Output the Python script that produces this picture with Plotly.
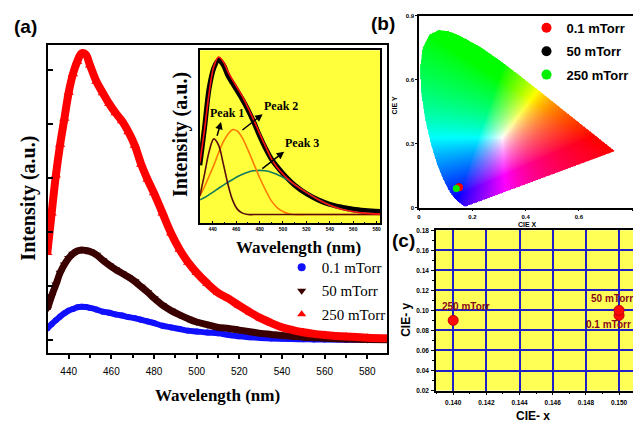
import numpy as np
import plotly.graph_objects as go
import zlib, struct, base64

# ---------------- data ----------------
WL = [430, 432, 434, 436, 438, 440, 442, 444, 446, 448, 450, 453, 456, 459, 462, 465, 468, 471,
      474, 477, 480, 484, 488, 492, 496, 500, 505, 510, 515, 520, 525, 530, 535, 540, 545, 550,
      555, 560, 570, 580, 590]
I_250 = [1.62, 2.35, 3.05, 3.62, 4.10, 4.58, 4.92, 5.15, 5.30, 5.28, 5.08, 4.78, 4.57, 4.37, 4.20,
         4.05, 3.85, 3.60, 3.25, 2.97, 2.72, 2.35, 1.98, 1.68, 1.44, 1.25, 1.05, 0.88, 0.77, 0.64,
         0.52, 0.41, 0.32, 0.24, 0.19, 0.15, 0.12, 0.10, 0.07, 0.05, 0.04]
I_50 = [0.58, 0.82, 1.03, 1.25, 1.40, 1.52, 1.60, 1.65, 1.67, 1.66, 1.64, 1.58, 1.48, 1.39, 1.31,
        1.24, 1.17, 1.09, 0.99, 0.89, 0.78, 0.65, 0.55, 0.47, 0.40, 0.34, 0.29, 0.24, 0.22, 0.19,
        0.16, 0.13, 0.11, 0.09, 0.075, 0.06, 0.05, 0.04, 0.025, 0.015, 0.01]
I_01 = [0.22, 0.30, 0.37, 0.44, 0.50, 0.55, 0.58, 0.61, 0.62, 0.615, 0.60, 0.57, 0.53, 0.51, 0.48,
        0.46, 0.43, 0.41, 0.38, 0.35, 0.32, 0.27, 0.24, 0.21, 0.18, 0.165, 0.145, 0.13, 0.10, 0.075,
        0.06, 0.045, 0.035, 0.03, 0.025, 0.02, 0.018, 0.015, 0.012, 0.01, 0.01]

# inset (250 mTorr, normalised) with Gaussian deconvolution
WL_IN = [429, 433, 437, 441, 445, 449, 453, 457, 461, 465, 470, 475, 480, 485, 490, 495, 500, 505,
         510, 520, 530, 540, 550, 560, 570, 583]
DATA_IN = [0.32, 0.56, 0.82, 0.95, 1.00, 0.97, 0.90, 0.85, 0.80, 0.75, 0.68, 0.60, 0.51, 0.43, 0.36,
           0.31, 0.265, 0.225, 0.19, 0.135, 0.095, 0.066, 0.048, 0.035, 0.027, 0.02]
FIT_IN = [0.335, 0.55, 0.79, 0.96, 1.02, 0.99, 0.925, 0.87, 0.82, 0.77, 0.694, 0.613, 0.526, 0.443,
          0.364, 0.304, 0.262, 0.224, 0.194, 0.143, 0.097, 0.06, 0.034, 0.018, 0.009, 0.003]
PEAK1 = [0.12, 0.26, 0.41, 0.49, 0.45, 0.33, 0.196, 0.093, 0.035, 0.011, 0.0, 0.0, 0.0, 0.0, 0.0,
         0.0, 0.0, 0.0, 0.0, 0.0, 0.0, 0.0, 0.0, 0.0, 0.0, 0.0]
PEAK2 = [0.12, 0.18, 0.25, 0.32, 0.40, 0.47, 0.52, 0.55, 0.54, 0.50, 0.42, 0.33, 0.24, 0.16, 0.09,
         0.045, 0.02, 0.005, 0.0, 0.0, 0.0, 0.0, 0.0, 0.0, 0.0, 0.0]
PEAK3 = [0.095, 0.11, 0.129, 0.148, 0.17, 0.189, 0.209, 0.227, 0.245, 0.259, 0.274, 0.283, 0.286,
         0.283, 0.274, 0.259, 0.242, 0.219, 0.194, 0.143, 0.097, 0.06, 0.034, 0.018, 0.009, 0.003]

# CIE chromaticity
SAMPLES = ["0.1 mTorr", "50 mTorr", "250 mTorr"]
CIE_X = [0.150, 0.150, 0.140]
CIE_Y = [0.095, 0.100, 0.090]

LOCUS_X = [0.1741, 0.1714, 0.1644, 0.1566, 0.1440, 0.1241, 0.1096, 0.0913, 0.0687, 0.0454, 0.0235,
           0.0082, 0.0039, 0.0139, 0.0389, 0.0743, 0.1142, 0.1547, 0.2296, 0.3016, 0.3731, 0.4441,
           0.5125, 0.5752, 0.6270, 0.6915, 0.7190, 0.7347]
LOCUS_Y = [0.0050, 0.0051, 0.0109, 0.0177, 0.0297, 0.0578, 0.0868, 0.1327, 0.2007, 0.2950, 0.4127,
           0.5384, 0.6548, 0.7502, 0.8120, 0.8338, 0.8262, 0.8059, 0.7543, 0.6923, 0.6245, 0.5547,
           0.4866, 0.4242, 0.3725, 0.3083, 0.2809, 0.2653]


# ---------------- chromaticity background image ----------------
def inside_poly(px, py, vx, vy):
    res = np.zeros(px.shape, bool)
    n = len(vx)
    j = n - 1
    for i in range(n):
        xi, yi, xj, yj = vx[i], vy[i], vx[j], vy[j]
        cond = ((yi > py) != (yj > py)) & (px < (xj - xi) * (py - yi) / (yj - yi + 1e-12) + xi)
        res ^= cond
        j = i
    return res


XMAX_B, YMAX_B = 0.803, 0.9
IW, IH = 344, 312
gx = (np.arange(IW) + 0.5) / IW * XMAX_B
gy = YMAX_B - (np.arange(IH) + 0.5) / IH * YMAX_B
GX, GY = np.meshgrid(gx, gy)
mask = inside_poly(GX, GY, LOCUS_X, LOCUS_Y)
Yc = np.maximum(GY, 1e-4)
XYZ = np.stack([GX / Yc, np.ones_like(GX), (1 - GX - GY) / Yc], -1)
M = np.array([[3.2406, -1.5372, -0.4986], [-0.9689, 1.8758, 0.0415], [0.0557, -0.2040, 1.0570]])
rgb = np.clip(XYZ @ M.T, 0, None)
rgb = rgb / (rgb.max(-1, keepdims=True) + 1e-9)
srgb = np.power(rgb, 0.75)
rgba = np.zeros((IH, IW, 4), np.uint8)
rgba[..., :3] = np.clip(srgb * 255, 0, 255).astype(np.uint8)
rgba[..., 3] = (mask * 255).astype(np.uint8)


def png_uri(arr):
    h, w, _ = arr.shape
    raw = b"".join(b"\x00" + arr[r].tobytes() for r in range(h))

    def chunk(t, d):
        return struct.pack(">I", len(d)) + t + d + struct.pack(">I", zlib.crc32(t + d) & 0xffffffff)

    png = (b"\x89PNG\r\n\x1a\n" + chunk(b"IHDR", struct.pack(">IIBBBBB", w, h, 8, 6, 0, 0, 0))
           + chunk(b"IDAT", zlib.compress(raw, 9)) + chunk(b"IEND", b""))
    return "data:image/png;base64," + base64.b64encode(png).decode()


# ---------------- figure ----------------
FW, FH = 634, 426
def PX(p): return p / FW
def PY(p): return 1 - p / FH

SERIF = "Liberation Serif, Times New Roman, serif"
SANS = "Liberation Sans, Arial, sans-serif"

fig = go.Figure()

# (a) main spectra
fig.add_trace(go.Scatter(x=WL, y=I_01, mode="lines+markers",
                         line=dict(color="#1010ff", width=6, shape="spline"),
                         marker=dict(symbol="circle", color="#1010ff", size=6),
                         showlegend=False, xaxis="x", yaxis="y"))
fig.add_trace(go.Scatter(x=WL, y=I_50, mode="lines+markers",
                         line=dict(color="#3a0000", width=7, shape="spline"),
                         marker=dict(symbol="triangle-down", color="#3a0000", size=8),
                         showlegend=False, xaxis="x", yaxis="y"))
fig.add_trace(go.Scatter(x=WL, y=I_250, mode="lines+markers",
                         line=dict(color="#ff0000", width=8, shape="spline"),
                         marker=dict(symbol="triangle-up", color="#ff0000", size=9),
                         showlegend=False, xaxis="x", yaxis="y"))
leg_a = [("0.1 mTorr", "circle", "#1010ff"), ("50 mTorr", "triangle-down", "#3a0000"),
         ("250 mTorr", "triangle-up", "#ff0000")]
for k, (nm, sym, col) in enumerate(leg_a):
    fig.add_trace(go.Scatter(x=[None], y=[None], mode="markers", name=nm, legendgroup="a%d" % k,
                             marker=dict(symbol=sym, color=col, size=8), legend="legend",
                             xaxis="x", yaxis="y"))

# inset
fig.add_trace(go.Scatter(x=WL_IN, y=DATA_IN, mode="lines", line=dict(color="black", width=5, shape="spline"),
                         showlegend=False, xaxis="x4", yaxis="y4"))
fig.add_trace(go.Scatter(x=WL_IN, y=PEAK3, mode="lines", line=dict(color="#137a5e", width=1.6, shape="spline"),
                         showlegend=False, xaxis="x4", yaxis="y4"))
fig.add_trace(go.Scatter(x=WL_IN, y=PEAK2, mode="lines", line=dict(color="#ff7a00", width=1.6, shape="spline"),
                         showlegend=False, xaxis="x4", yaxis="y4"))
fig.add_trace(go.Scatter(x=WL_IN, y=PEAK1, mode="lines", line=dict(color="#5a0c0c", width=1.6, shape="spline"),
                         showlegend=False, xaxis="x4", yaxis="y4"))
fig.add_trace(go.Scatter(x=WL_IN, y=FIT_IN, mode="lines", line=dict(color="#ff1010", width=1.6, shape="spline"),
                         showlegend=False, xaxis="x4", yaxis="y4"))

# (b) CIE diagram points
COLS_B = ["#ff0000", "#000000", "#00ee00"]
for i in [1, 0, 2]:
    fig.add_trace(go.Scatter(x=[CIE_X[i]], y=[CIE_Y[i]], mode="markers", showlegend=False,
                             marker=dict(color=COLS_B[i], size=[8, 6, 7][i]), xaxis="x2", yaxis="y2"))
for i in range(3):
    fig.add_trace(go.Scatter(x=[None], y=[None], mode="markers", name="<b>%s</b>" % SAMPLES[i],
                             legendgroup="b%d" % i,
                             marker=dict(color=COLS_B[i], size=10), legend="legend2",
                             xaxis="x2", yaxis="y2"))

# (c) zoomed CIE points
fig.add_trace(go.Scatter(x=CIE_X, y=CIE_Y, mode="markers", showlegend=False,
                         marker=dict(color="#ff0a0a", size=10, line=dict(color="#c00000", width=1)),
                         xaxis="x3", yaxis="y3"))

lab_shift = {"0.1 mTorr": (-35, -9.5), "50 mTorr": (-30, 12), "250 mTorr": (-13, 13.5)}
annotations = []
for i, s in enumerate(SAMPLES):
    dx, dy = lab_shift[s]
    annotations.append(dict(x=CIE_X[i], y=CIE_Y[i], xref="x3", yref="y3", text="<b>%s</b>" % s,
                            showarrow=False, xanchor="left", yanchor="middle", xshift=dx, yshift=dy,
                            font=dict(family=SANS, size=10, color="#8a0a1a")))

# peak labels + arrows in inset
PEAK_LABELS = ["Peak 1", "Peak 2", "Peak 3"]
lab_pos = [(452.2, 0.655), (498.1, 0.70), (516.6, 0.46)]
arr_tail = [(443.4, 0.50), (464.1, 0.54), (481.1, 0.29)]
arr_head = [(447.1, 0.60), (482.6, 0.65), (501.0, 0.407)]
for k in range(3):
    annotations.append(dict(x=lab_pos[k][0], y=lab_pos[k][1], xref="x4", yref="y4",
                            text="<b>%s</b>" % PEAK_LABELS[k], showarrow=False,
                            font=dict(family=SERIF, size=12, color="black")))
    annotations.append(dict(x=arr_head[k][0], y=arr_head[k][1], xref="x4", yref="y4", text="",
                            showarrow=True, axref="x4", ayref="y4", ax=arr_tail[k][0], ay=arr_tail[k][1],
                            arrowhead=2, arrowsize=1, arrowwidth=1.5, arrowcolor="black"))

def txt(x, y, t, size, family=SERIF, angle=0, color="black"):
    annotations.append(dict(x=PX(x), y=PY(y), xref="paper", yref="paper", text=t, showarrow=False,
                            textangle=angle, xanchor="center", yanchor="middle",
                            font=dict(family=family, size=size, color=color)))

txt(24, 23, "<b>(a)</b>", 19, SANS)
txt(383, 20, "<b>(b)</b>", 19, SANS)
txt(403, 240, "<b>(c)</b>", 19, SANS)
txt(27, 197, "<b>Intensity (a.u.)</b>", 20, angle=-90)
txt(217, 398, "<b>Wavelength (nm)</b>", 17)
txt(180, 133, "<b>Intensity (a.u.)</b>", 20, angle=-90)
txt(298, 248, "<b>Wavelength (nm)</b>", 17)
txt(528, 224, "<b>CIE X</b>", 7, SANS)
txt(394, 103, "<b>CIE Y</b>", 7, SANS, angle=-90)
txt(534, 419, "<b>CIE- x</b>", 12, SANS)
txt(406, 321, "<b>CIE- y</b>", 12, SANS, angle=-90)

shapes = [
    dict(type="rect", xref="x4 domain", yref="y4 domain", x0=0, x1=1, y0=0, y1=1,
         fillcolor="#ffff3c", line=dict(width=0), layer="below"),
    dict(type="rect", xref="x3 domain", yref="y3 domain", x0=0, x1=1, y0=0, y1=1,
         fillcolor="#ffff55", line=dict(width=0), layer="below"),
]

images = [dict(source=png_uri(rgba), xref="x2", yref="y2", x=0, y=YMAX_B, sizex=XMAX_B, sizey=YMAX_B,
               xanchor="left", yanchor="top", sizing="stretch", layer="below")]

tickf = lambda s, b=False: dict(family=SANS, size=s, color="black", weight="bold" if b else "normal")

fig.update_layout(
    width=FW, height=FH, autosize=False, margin=dict(l=0, r=0, t=0, b=0),
    paper_bgcolor="white", plot_bgcolor="rgba(0,0,0,0)",
    showlegend=True,
    xaxis=dict(domain=[PX(46), PX(387)], range=[430.2, 589.3], tick0=440, dtick=20,
               ticks="outside", ticklen=4, tickwidth=1.5, tickcolor="black",
               minor=dict(dtick=10, ticks="outside", ticklen=3, tickcolor="black"),
               tickfont=tickf(10), ticklabelstandoff=4,
               showline=True, linecolor="black", linewidth=2, mirror=True, showgrid=False,
               zeroline=False, anchor="y"),
    yaxis=dict(domain=[PY(355), PY(42)], range=[-0.236, 5.45], tick0=0, dtick=1,
               ticks="inside", ticklen=5, tickwidth=2, tickcolor="black", showticklabels=False,
               showline=True, linecolor="black", linewidth=2, mirror=True, showgrid=False,
               zeroline=False, anchor="x"),
    xaxis4=dict(domain=[PX(199), PX(380)], range=[429.2, 583], tick0=440, dtick=20,
                ticks="inside", ticklen=2, tickcolor="black",
                minor=dict(dtick=10, ticks="inside", ticklen=1.5, tickcolor="black"),
                tickfont=tickf(5, True), ticklabelstandoff=0,
                showline=True, linecolor="black", linewidth=2, mirror=True, showgrid=False,
                zeroline=False, anchor="y4"),
    yaxis4=dict(domain=[PY(223), PY(47)], range=[-0.057, 1.064], showticklabels=False, ticks="",
                showline=True, linecolor="black", linewidth=2, mirror=True, showgrid=False,
                zeroline=False, anchor="x4"),
    xaxis2=dict(domain=[PX(419), 1.0], range=[0, XMAX_B], tickvals=[0, 0.2, 0.4, 0.6, 0.8],
                ticktext=["0", "0.2", "0.4", "0.6", "0.8"], ticks="outside", ticklen=2,
                tickcolor="black", tickfont=tickf(6, True), ticklabelstandoff=0,
                showline=True, linecolor="black", linewidth=1.5, mirror=True, showgrid=False,
                zeroline=False, anchor="y2"),
    yaxis2=dict(domain=[PY(207), PY(12)], range=[0, YMAX_B], tickvals=[0, 0.3, 0.6, 0.9],
                ticktext=["0", "0.3", "0.6", "0.9"], ticks="outside", ticklen=2,
                tickcolor="black", tickfont=tickf(6, True), ticklabelstandoff=0,
                showline=True, linecolor="black", linewidth=1.5, mirror=False, showgrid=False,
                zeroline=False, anchor="x2"),
    xaxis3=dict(domain=[PX(436), 1.0], range=[0.13896, 0.15084], tick0=0.140, dtick=0.002,
                tickformat=".3f", ticks="outside", ticklen=3, tickcolor="black",
                minor=dict(dtick=0.001, ticks="outside", ticklen=2, tickcolor="black"),
                tickfont=tickf(6.5, True), ticklabelstandoff=2,
                showline=True, linecolor="black", linewidth=1.5, mirror=True,
                showgrid=True, gridcolor="#2020c8", gridwidth=1.8, zeroline=False, anchor="y3"),
    yaxis3=dict(domain=[PY(393), PY(230)], range=[0.02, 0.18], tick0=0.02, dtick=0.02,
                tickformat=".2f", ticks="outside", ticklen=3, tickcolor="black",
                minor=dict(dtick=0.01, ticks="outside", ticklen=2, tickcolor="black"),
                tickfont=tickf(6.5, True), ticklabelstandoff=1,
                showline=True, linecolor="black", linewidth=1.5, mirror=False,
                showgrid=True, gridcolor="#2020c8", gridwidth=1.8, zeroline=False, anchor="x3"),
    legend=dict(x=PX(281), y=PY(251), xanchor="left", yanchor="top", bgcolor="rgba(0,0,0,0)",
                font=dict(family=SERIF, size=15, color="black"), borderwidth=0,
                traceorder="grouped", tracegroupgap=1),
    legend2=dict(x=PX(527), y=PY(9), xanchor="left", yanchor="top", bgcolor="rgba(0,0,0,0)",
                 font=dict(family=SANS, size=13, color="black"), borderwidth=0,
                 traceorder="grouped", tracegroupgap=3.5),
    annotations=annotations, shapes=shapes, images=images,
)

fig.write_html("out.html")
